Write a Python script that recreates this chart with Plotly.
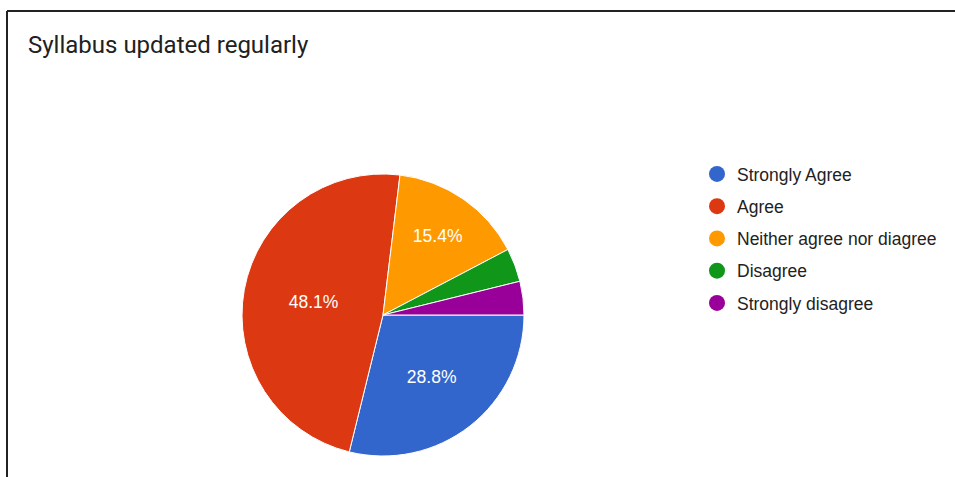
import plotly.graph_objects as go

categories = ["Strongly Agree", "Agree", "Neither agree nor diagree", "Disagree", "Strongly disagree"]
counts = [15, 25, 8, 2, 2]
colors = ["#3366cc", "#dc3912", "#ff9900", "#109618", "#990099"]
label_pos = ["inside", "inside", "inside", "none", "none"]

W, H = 955, 477
cx, cy, r = 383, 315, 141

fig = go.Figure()
fig.add_trace(go.Pie(
    labels=categories, values=counts, sort=False, direction="clockwise", rotation=90,
    marker=dict(colors=colors, line=dict(color="white", width=1)),
    texttemplate="%{percent:.1%}", textposition=label_pos, insidetextorientation="horizontal",
    textfont=dict(family="Arial, Liberation Sans", size=17.5, color="white"),
    domain=dict(x=[(cx - r) / W, (cx + r) / W], y=[(H - cy - r) / H, (H - cy + r) / H]),
    showlegend=False, hoverinfo="label+percent",
))
for i, (c, col) in enumerate(zip(categories, colors)):
    fig.add_trace(go.Scatter(x=[None], y=[None], mode="markers", name=c, legendgroup=str(i),
                             marker=dict(color=col, size=16, symbol="circle")))

fig.update_layout(
    width=W, height=H, margin=dict(l=0, r=0, t=0, b=0),
    paper_bgcolor="white", plot_bgcolor="white",
    xaxis=dict(visible=False), yaxis=dict(visible=False),
    title=dict(text="Syllabus updated regularly", x=28 / W, xanchor="left", xref="container",
               y=1 - 45 / H, yanchor="middle", yref="container",
               font=dict(family="Roboto", size=24, color="#212121")),
    legend=dict(x=697 / W, xanchor="left", y=1 - 156 / H, yanchor="top",
                font=dict(family="Arial, Liberation Sans", size=17.5, color="#222222"),
                traceorder="grouped", tracegroupgap=6.5, bgcolor="rgba(0,0,0,0)"),
    shapes=[
        dict(type="line", xref="paper", yref="paper", x0=7 / W, x1=1, y0=1 - 11 / H, y1=1 - 11 / H,
             line=dict(color="#222222", width=2)),
        dict(type="line", xref="paper", yref="paper", x0=7 / W, x1=7 / W, y0=1 - 11 / H, y1=0,
             line=dict(color="#222222", width=2)),
    ],
)
fig.write_html("out.html", config={"displayModeBar": False},
               post_script="document.body.style.margin='0';document.body.style.overflow='hidden';")
